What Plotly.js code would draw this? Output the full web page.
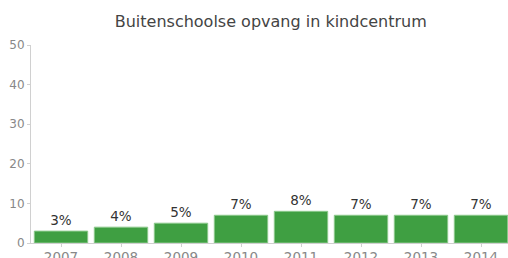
<!DOCTYPE html>
<html>
<head>
<meta charset="utf-8">
<script src="https://cdn.plot.ly/plotly-3.0.1.min.js"></script>
<style>
html,body{margin:0;padding:0;overflow:hidden;background:#fff;}
#chart{width:508px;height:258px;}
</style>
</head>
<body>
<div id="chart"></div>
<script>
const years = ['2007','2008','2009','2010','2011','2012','2013','2014'];
const values = [3, 4, 5, 7, 8, 7, 7, 7];
const labels = ['3%','4%','5%','7%','8%','7%','7%','7%'];
const yTicks = [0, 10, 20, 30, 40, 50];

const FONT = 'DejaVu Sans, Liberation Sans, Arial, sans-serif';

const trace = {
  type: 'bar',
  x: years,
  y: values,
  text: labels,
  textposition: 'outside',
  textfont: {family: FONT, size: 13.5, color: '#333'},
  cliponaxis: false,
  marker: {color: '#3f9f42', line: {color: '#8cc98c', width: 1}},
  hoverinfo: 'none'
};

const layout = {
  width: 508, height: 258,
  margin: {l: 31, r: 0, t: 45, b: 15, pad: 0},
  paper_bgcolor: '#fff', plot_bgcolor: '#fff',
  bargap: 0.11,
  title: {text: 'Buitenschoolse opvang in kindcentrum', x: 0.533, xanchor: 'center', y: 0.918, yanchor: 'middle',
          font: {family: FONT, size: 16, color: '#444'}},
  font: {family: FONT},
  xaxis: {type: 'category', range: [-0.5, 7.45], showgrid: false, zeroline: false,
          showline: true, linecolor: '#d0d0d0', linewidth: 1,
          ticks: 'outside', ticklen: 3, tickcolor: '#d0d0d0',
          ticklabelstandoff: -1,
          tickfont: {family: FONT, size: 13.5, color: '#888'}},
  yaxis: {range: [0, 50], tickvals: yTicks, showgrid: false, zeroline: false,
          showline: true, linecolor: '#d0d0d0', linewidth: 1,
          ticks: 'outside', ticklen: 3, tickcolor: '#d0d0d0',
          tickfont: {family: FONT, size: 12, color: '#888'}},
  showlegend: false
};

Plotly.newPlot('chart', [trace], layout, {displayModeBar: false, staticPlot: true});
</script>
</body>
</html>
